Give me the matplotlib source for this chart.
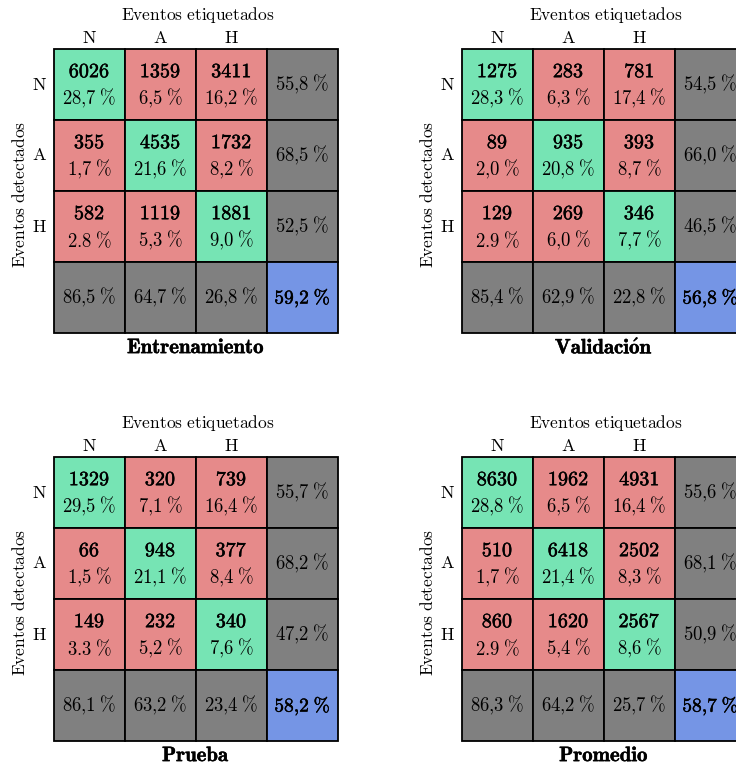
import matplotlib
matplotlib.use("Agg")
import matplotlib.pyplot as plt
import matplotlib.patheffects as pe
from matplotlib.patches import Rectangle

plt.rcParams['mathtext.fontset'] = 'cm'

# matrices de confusión (filas = detectados, columnas = etiquetados)
titulos = ['Entrenamiento', r'Validaci\acute{o}n', 'Prueba', 'Promedio']
clases = ['N', 'A', 'H']

conteos_ent = [[6026, 1359, 3411], [355, 4535, 1732], [582, 1119, 1881]]
conteos_val = [[1275, 283, 781], [89, 935, 393], [129, 269, 346]]
conteos_pru = [[1329, 320, 739], [66, 948, 377], [149, 232, 340]]
conteos_pro = [[8630, 1962, 4931], [510, 6418, 2502], [860, 1620, 2567]]

pct_ent = [['28,7', '6,5', '16,2'], ['1,7', '21,6', '8,2'], ['2.8', '5,3', '9,0']]
pct_val = [['28,3', '6,3', '17,4'], ['2,0', '20,8', '8,7'], ['2.9', '6,0', '7,7']]
pct_pru = [['29,5', '7,1', '16,4'], ['1,5', '21,1', '8,4'], ['3.3', '5,2', '7,6']]
pct_pro = [['28,8', '6,5', '16,4'], ['1,7', '21,4', '8,3'], ['2.9', '5,4', '8,6']]

fila_ent = ['55,8', '68,5', '52,5']
fila_val = ['54,5', '66,0', '46,5']
fila_pru = ['55,7', '68,2', '47,2']
fila_pro = ['55,6', '68,1', '50,9']

col_ent = ['86,5', '64,7', '26,8']
col_val = ['85,4', '62,9', '22,8']
col_pru = ['86,1', '63,2', '23,4']
col_pro = ['86,3', '64,2', '25,7']

total = ['59,2', '56,8', '58,2', '58,7']

conteos = [conteos_ent, conteos_val, conteos_pru, conteos_pro]
pcts = [pct_ent, pct_val, pct_pru, pct_pro]
filas = [fila_ent, fila_val, fila_pru, fila_pro]
cols = [col_ent, col_val, col_pru, col_pro]

verde = '#76E4B4'
rojo = '#E68A8A'
gris = '#808080'
azul = '#7595E5'

W, H = 736, 765
fig = plt.figure(figsize=(W / 100, H / 100), dpi=100)

# esquina superior izquierda de cada rejilla en pixeles
origenes = [(54, 49), (462, 49), (54, 457), (462, 457)]
lado = 284

negrita = [pe.withStroke(linewidth=0.35, foreground='black')]

def pct_txt(s, bf=False):
    s = s.replace(',', '{,}')
    if bf:
        return r'$\mathbf{' + s + r'\;\%}$'
    return r'$\mathrm{' + s + r'\;\%}$'

fs = 13.5
for k, (x0, y0) in enumerate(origenes):
    ax = fig.add_axes([x0 / W, 1 - (y0 + lado) / H, lado / W, lado / H])
    ax.set_xlim(0, 4)
    ax.set_ylim(4, 0)
    ax.axis('off')
    for i in range(4):
        for j in range(4):
            if i < 3 and j < 3:
                c = verde if i == j else rojo
            elif i == 3 and j == 3:
                c = azul
            else:
                c = gris
            ax.add_patch(Rectangle((j, i), 1, 1, facecolor=c, edgecolor='black',
                                   linewidth=1.3, clip_on=False))
    for i in range(3):
        for j in range(3):
            ax.text(j + 0.5, i + 0.32, r'$\mathbf{%d}$' % conteos[k][i][j],
                    ha='center', va='center', fontsize=14.5, path_effects=negrita)
            ax.text(j + 0.5, i + 0.7, pct_txt(pcts[k][i][j]),
                    ha='center', va='center', fontsize=fs)
        ax.text(3.5, i + 0.5, pct_txt(filas[k][i]), ha='center', va='center', fontsize=fs)
        ax.text(i + 0.5, 3.5, pct_txt(cols[k][i]), ha='center', va='center', fontsize=fs)
    ax.text(3.5, 3.5, pct_txt(total[k], True), ha='center', va='center', fontsize=14,
            path_effects=negrita)

    for j, cl in enumerate(clases):
        ax.text(j + 0.5, -0.16, r'$\mathrm{%s}$' % cl, ha='center', va='center', fontsize=13)
        ax.text(-0.21, j + 0.5, r'$\mathrm{%s}$' % cl, ha='center', va='center', fontsize=13)
    ax.text(2.02, -0.48, r'$\mathrm{Eventos\ etiquetados}$', ha='center', va='center', fontsize=12.5)
    ax.text(-0.48, 2.05, r'$\mathrm{Eventos\ detectados}$', ha='center', va='center',
            rotation=90, fontsize=12.5)
    ax.text(2.0, 4.2, r'$\mathbf{' + titulos[k] + '}$', ha='center', va='center', fontsize=15,
            path_effects=negrita)

fig.savefig('out.png', dpi=100)
